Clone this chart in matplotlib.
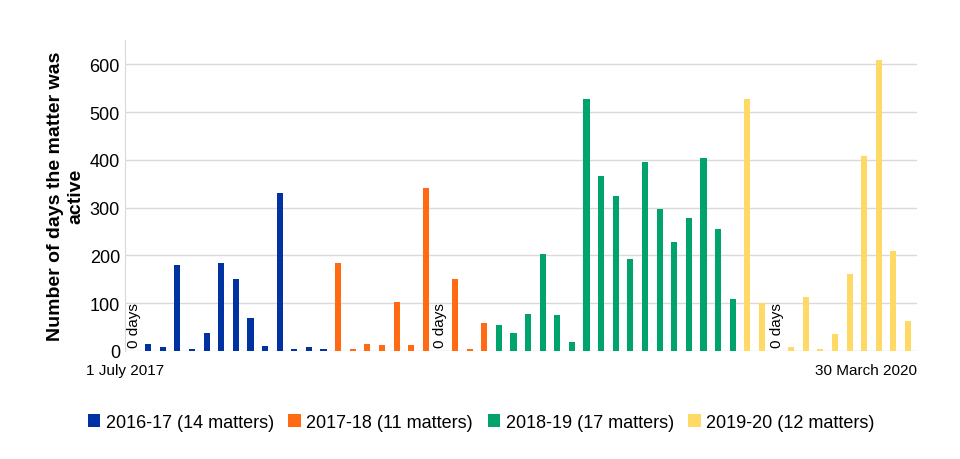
import matplotlib.pyplot as plt

plt.rcParams["font.family"] = "Liberation Sans"

fy17 = [0, 15, 8, 180, 5, 38, 185, 150, 68, 10, 330, 5, 8, 5]
fy18 = [183, 5, 15, 12, 103, 13, 340, 0, 150, 5, 58]
fy19 = [55, 38, 78, 203, 75, 18, 528, 367, 325, 192, 395, 297, 227, 278, 403, 255, 108]
fy20 = [527, 100, 0, 8, 113, 5, 35, 162, 408, 608, 210, 63]
labels = ["2016-17 (14 matters)", "2017-18 (11 matters)", "2018-19 (17 matters)", "2019-20 (12 matters)"]
colors = ["#0033a1", "#ff6a13", "#00a36c", "#ffd966"]

fig, ax = plt.subplots(figsize=(9.6, 4.6), dpi=100)
fig.subplots_adjust(left=0.13, right=0.955, top=0.91, bottom=0.235)

start = 0
for vals, lab, c in zip([fy17, fy18, fy19, fy20], labels, colors):
    xs = list(range(start, start + len(vals)))
    ax.bar(xs, vals, width=0.42, color=c, label=lab, zorder=3)
    for x, v in zip(xs, vals):
        if v == 0:
            ax.text(x, 8, "0 days", rotation=90, ha="center", va="bottom", fontsize=11)
    start += len(vals)

ax.set_xlim(-0.6, start - 0.4)
ax.set_ylim(0, 650)
ax.set_yticks(range(0, 700, 100))
ax.tick_params(axis="y", labelsize=13, length=0)
ax.set_xticks([])
ax.yaxis.grid(True, color="#d9d9d9", lw=1, zorder=0)
for s in ["top", "right", "bottom"]:
    ax.spines[s].set_visible(False)
ax.spines["left"].set_color("#d9d9d9")
ax.set_ylabel("Number of days the matter was\nactive", fontsize=14, fontweight="bold")
ax.text(0, -0.06, "1 July 2017", transform=ax.transAxes, ha="center", va="center", fontsize=11)
ax.text(1.0, -0.06, "30 March 2020", transform=ax.transAxes, ha="right", va="center", fontsize=11)
ax.legend(loc="upper center", bbox_to_anchor=(0.45, -0.15), ncol=4, frameon=False,
          fontsize=13, handlelength=0.7, handleheight=0.7, columnspacing=0.8, handletextpad=0.3)

plt.savefig("out.png")
